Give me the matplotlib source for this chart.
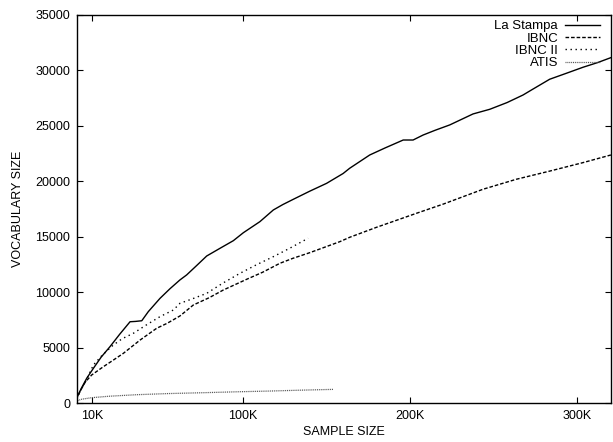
import matplotlib
matplotlib.use("Agg")
import matplotlib.pyplot as plt
from matplotlib.ticker import FixedLocator

plt.rcParams["font.family"] = ["Liberation Sans", "DejaVu Sans"]

# sample size (in thousands) / vocabulary size
stampa_x = [0.5, 1.2, 3.5, 6.8, 10.8, 15.5, 20.7, 26.5, 32.7, 36.0, 39.7, 43.6, 50.6,
            56.5, 62.5, 66.5, 72.5, 78.5, 86.4, 94.4, 100.4, 110.3, 118.3, 124.0,
            130.2, 140.0, 150.1, 160.0, 163.9, 175.9, 185.0, 195.9, 201.8, 207.8,
            215.0, 223.7, 237.6, 247.6, 258.0, 267.5, 272.5, 283.4, 293.4, 303.3, 312.0, 320.0]
stampa_y = [300, 570, 1300, 2230, 3130, 4150, 5080, 6200, 7330, 7360, 7420, 8240, 9440,
            10300, 11100, 11550, 12400, 13260, 13950, 14640, 15360, 16360, 17410, 17900,
            18370, 19100, 19810, 20700, 21170, 22370, 23000, 23720, 23720, 24170,
            24600, 25080, 26070, 26490, 27100, 27780, 28230, 29200, 29740, 30280, 30700, 31150]

ibnc_x = [0.5, 3.0, 6.0, 9.8, 16.7, 22.0, 28.7, 38.7, 48.6, 55.0, 62.5, 70.5, 80.0,
          88.4, 102.4, 112.0, 122.2, 130.0, 140.1, 158.0, 164.0, 180.0, 203.8, 220.0,
          243.6, 263.5, 283.0, 303.3, 320.0]
ibnc_y = [300, 1100, 1900, 2530, 3270, 3800, 4480, 5680, 6740, 7200, 7850, 8840, 9500,
          10190, 11160, 11800, 12600, 13050, 13560, 14550, 14950, 15850, 17110, 17950,
          19280, 20180, 20900, 21680, 22370]

ibnc2_x = [0.5, 3.0, 6.0, 10.8, 16.0, 22.7, 28.0, 34.7, 42.0, 50.6, 58.6, 62.5, 70.0,
           78.5, 88.0, 98.4, 108.0, 118.3, 128.0, 139.1]
ibnc2_y = [300, 1100, 1900, 3430, 4300, 5230, 5800, 6290, 7000, 7790, 8390, 8990, 9400,
           9890, 10800, 11700, 12450, 13200, 13950, 14860]

atis_x = [0.5, 1.2, 4.0, 9.8, 20.0, 36.7, 55.0, 76.5, 96.0, 116.3, 135.0, 154.1]
atis_y = [100, 210, 350, 480, 610, 750, 850, 930, 1010, 1080, 1160, 1230]

xticks = [10, 100, 200, 300]
xtick_labels = ["10K", "100K", "200K", "300K"]
yticks = [0, 5000, 10000, 15000, 20000, 25000, 30000, 35000]

fig = plt.figure(figsize=(6.13, 4.42), dpi=100)
ax = fig.add_axes([0.1256, 0.0882, 0.871, 0.878])

ax.plot(stampa_x, stampa_y, color="black", lw=1.0, label="La Stampa")
ax.plot(ibnc_x, ibnc_y, color="black", lw=1.0, dashes=(2.6, 1.4), label="IBNC")
ax.plot(ibnc2_x, ibnc2_y, color="black", lw=1.0, dashes=(1.0, 2.6), label="IBNC II")
ax.plot(atis_x, atis_y, color="#555555", lw=0.9, dashes=(0.8, 0.7), label="ATIS")

ax.set_xlim(1, 320)
ax.set_ylim(0, 35000)
ax.xaxis.set_major_locator(FixedLocator(xticks))
ax.set_xticklabels(xtick_labels)
ax.yaxis.set_major_locator(FixedLocator(yticks))

ax.tick_params(direction="in", length=4.5, width=0.8, top=True, right=True,
               labelsize=9, pad=5)
for sp in ax.spines.values():
    sp.set_linewidth(1.0)

ax.set_xlabel("SAMPLE SIZE", fontsize=9, labelpad=3)
ax.set_ylabel("VOCABULARY SIZE", fontsize=9, labelpad=8)

ax.legend(loc="upper right", frameon=False, markerfirst=False, fontsize=9.5,
          handlelength=2.7, handletextpad=0.5, labelspacing=0.0,
          borderaxespad=0.0, bbox_to_anchor=(0.99, 1.0))
leg = ax.get_legend()
for t in leg.get_texts():
    t.set_ha("right")

fig.savefig("out.png", dpi=100)
